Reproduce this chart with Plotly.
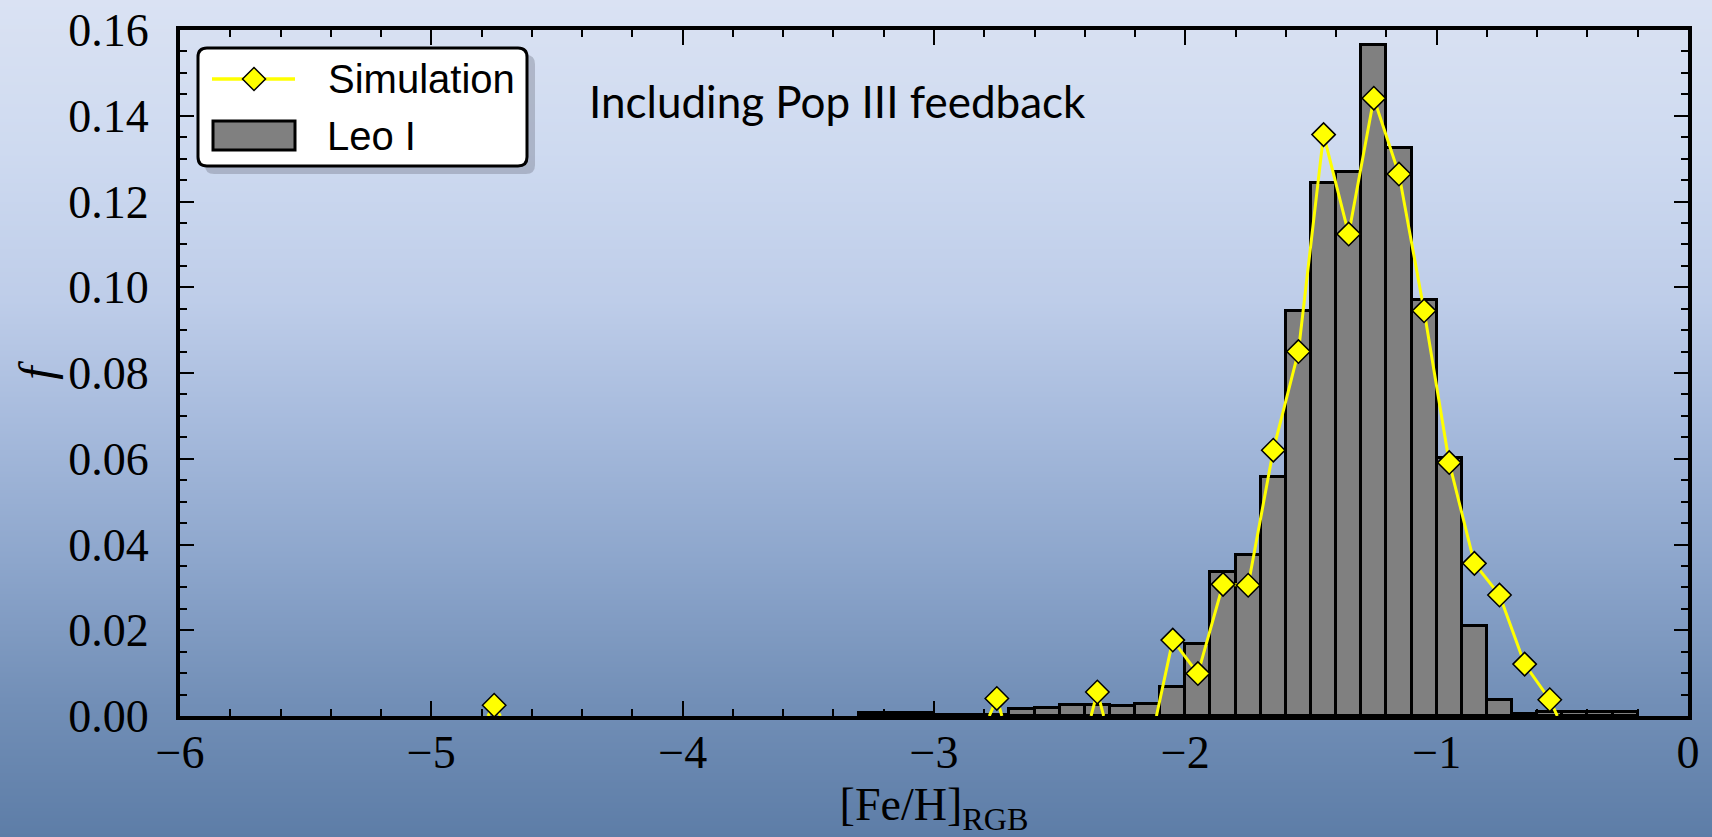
import base64
import struct
import zlib

import plotly.graph_objects as go

# ---------------- data ----------------
# Leo I observed MDF: bin centres (width 0.1 dex) and fractions
leo_x = [-3.25, -3.15, -3.05, -2.95, -2.85, -2.75, -2.65, -2.55, -2.45, -2.35,
         -2.25, -2.15, -2.05, -1.95, -1.85, -1.75, -1.65, -1.55, -1.45, -1.35,
         -1.25, -1.15, -1.05, -0.95, -0.85, -0.75, -0.65, -0.55, -0.45, -0.35,
         -0.25]
leo_f = [0.0006, 0.0006, 0.0006, 0.0003, 0.0003, 0.0003, 0.0016, 0.0019, 0.0026, 0.0026,
         0.0023, 0.0027, 0.0068, 0.0169, 0.0336, 0.0375, 0.0558, 0.0945, 0.1243, 0.1268,
         0.1566, 0.1324, 0.0970, 0.0601, 0.0210, 0.0037, 0.0004, 0.0009, 0.0010, 0.0010,
         0.0009]
leo_width = 0.1

# Simulation MDF (line drops to zero next to isolated bins; None = gap)
sim_x = [-4.775, -4.75, -4.725, None, -2.78, -2.75, -2.73, None, -2.375, -2.35,
         -2.325, None, -2.115, -2.05, -1.95, -1.85, -1.75, -1.65, -1.55, -1.45,
         -1.35, -1.25, -1.15, -1.05, -0.95, -0.85, -0.75, -0.65, -0.55, -0.52]
sim_f = [0.0, 0.0025, 0.0, None, 0.0, 0.0041, 0.0, None, 0.0, 0.0056,
         0.0, None, 0.0, 0.0177, 0.0099, 0.0307, 0.0305, 0.0620, 0.0850, 0.1356,
         0.1124, 0.1441, 0.1264, 0.0945, 0.0591, 0.0356, 0.0282, 0.0121, 0.0038, 0.0]

x_ticks = [-6, -5, -4, -3, -2, -1, 0]
y_ticks = [0.00, 0.02, 0.04, 0.06, 0.08, 0.10, 0.12, 0.14, 0.16]

series_names = ["Simulation", "Leo I"]
annotation_text = "Including Pop III feedback"

# ---------------- layout geometry ----------------
FIG_W, FIG_H = 1712, 837
ML, MR, MT, MB = 180, 24, 30, 121
PW = FIG_W - ML - MR
PH = FIG_H - MT - MB


def px(x):
    return (x - ML) / PW


def py(y):
    return (FIG_H - MB - y) / PH


# ---------------- background gradient (PNG data URI) ----------------
stops = [(0, (218, 226, 243)), (150, (206, 218, 240)), (300, (190, 205, 233)),
         (420, (167, 187, 221)), (560, (141, 166, 204)), (700, (114, 143, 183)),
         (837, (93, 125, 167))]
PAD = 20


def grad_color(yy):
    yy = min(max(yy, 0), FIG_H)
    for (y0, c0), (y1, c1) in zip(stops[:-1], stops[1:]):
        if y0 <= yy <= y1:
            t = (yy - y0) / (y1 - y0)
            return tuple(int(round(a + (b - a) * t)) for a, b in zip(c0, c1))
    return stops[-1][1]


N_ROWS = FIG_H + 2 * PAD
rows = b"".join(b"\x00" + bytes(grad_color(i - PAD)) for i in range(N_ROWS))


def chunk(tag, data):
    return (struct.pack(">I", len(data)) + tag + data
            + struct.pack(">I", zlib.crc32(tag + data) & 0xFFFFFFFF))


png = (b"\x89PNG\r\n\x1a\n"
       + chunk(b"IHDR", struct.pack(">IIBBBBB", 1, N_ROWS, 8, 2, 0, 0, 0))
       + chunk(b"IDAT", zlib.compress(rows, 9))
       + chunk(b"IEND", b""))
bg_uri = "data:image/png;base64," + base64.b64encode(png).decode()

# ---------------- traces ----------------
fig = go.Figure()

fig.add_trace(go.Bar(
    x=leo_x, y=leo_f, width=leo_width, name=series_names[1],
    marker=dict(color="#808080", line=dict(color="black", width=3)),
    showlegend=False,
))

fig.add_trace(go.Scatter(
    x=sim_x, y=sim_f, mode="lines", name=series_names[0],
    line=dict(color="#ffff00", width=3), showlegend=False, connectgaps=False,
))

mk_x = [x for x, f in zip(sim_x, sim_f) if f]
mk_f = [f for f in sim_f if f]
fig.add_trace(go.Scatter(
    x=mk_x, y=mk_f, mode="markers", name=series_names[0],
    marker=dict(symbol="diamond", size=18, color="#ffff00",
                line=dict(color="black", width=1.5)),
    showlegend=False,
))

# ---------------- legend (drawn) ----------------


def path_from(points, close=True):
    out = []
    for cmd, pts in points:
        out.append(cmd + " ".join(f"{px(a):.6f},{py(b):.6f}" for a, b in pts))
    return " ".join(out) + (" Z" if close else "")


def rounded_rect(x0, y0, x1, y1, r):
    return path_from([
        ("M", [(x0 + r, y0)]), ("L", [(x1 - r, y0)]), ("Q", [(x1, y0), (x1, y0 + r)]),
        ("L", [(x1, y1 - r)]), ("Q", [(x1, y1), (x1 - r, y1)]),
        ("L", [(x0 + r, y1)]), ("Q", [(x0, y1), (x0, y1 - r)]),
        ("L", [(x0, y0 + r)]), ("Q", [(x0, y0), (x0 + r, y0)]),
    ])


def diamond(cx, cy, h):
    return path_from([("M", [(cx, cy - h)]), ("L", [(cx + h, cy)]),
                      ("L", [(cx, cy + h)]), ("L", [(cx - h, cy)])])


shapes = [
    dict(type="path", xref="paper", yref="paper", layer="above",
         path=rounded_rect(205, 55, 535, 174, 9),
         fillcolor="rgba(95,100,115,0.32)", line=dict(width=0)),
    dict(type="path", xref="paper", yref="paper", layer="above",
         path=rounded_rect(198, 48, 527, 166, 9),
         fillcolor="white", line=dict(color="black", width=3)),
    dict(type="line", xref="paper", yref="paper", layer="above",
         x0=px(212), x1=px(295), y0=py(79), y1=py(79),
         line=dict(color="#ffff00", width=3.5)),
    dict(type="path", xref="paper", yref="paper", layer="above",
         path=diamond(254, 79, 11.5),
         fillcolor="#ffff00", line=dict(color="black", width=1.5)),
    dict(type="rect", xref="paper", yref="paper", layer="above",
         x0=px(213), x1=px(295), y0=py(121), y1=py(150),
         fillcolor="#808080", line=dict(color="black", width=3)),
]

annotations = [
    dict(text=series_names[0], xref="paper", yref="paper", x=px(326), y=py(79),
         xanchor="left", yanchor="middle", showarrow=False,
         font=dict(family="Liberation Sans", size=40, color="black")),
    dict(text=series_names[1], xref="paper", yref="paper", x=px(325), y=py(136),
         xanchor="left", yanchor="middle", showarrow=False,
         font=dict(family="Liberation Sans", size=40, color="black")),
    dict(text=annotation_text, xref="paper", yref="paper", x=px(587), y=py(101),
         xanchor="left", yanchor="middle", showarrow=False,
         font=dict(family="Lato", size=44, color="black")),
]

tick_font = dict(family="Liberation Serif", size=46, color="black")

fig.update_layout(
    width=FIG_W, height=FIG_H,
    margin=dict(l=ML, r=MR, t=MT, b=MB, pad=0, autoexpand=False),
    paper_bgcolor="#a5b9dc", plot_bgcolor="rgba(0,0,0,0)",
    bargap=0, showlegend=False,
    shapes=shapes, annotations=annotations,
    images=[dict(source=bg_uri, xref="paper", yref="paper",
                 x=px(0), y=py(-PAD), sizex=FIG_W / PW, sizey=N_ROWS / PH,
                 xanchor="left", yanchor="top", sizing="stretch", layer="below")],
    xaxis=dict(range=[-6, 0], tickvals=x_ticks, ticks="inside", ticklen=15,
               tickwidth=2, tickcolor="black", showline=True, linewidth=4,
               linecolor="black", mirror="ticks", showgrid=False, zeroline=False,
               tickfont=tick_font, ticklabelstandoff=-7, automargin=False,
               minor=dict(ticks="inside", dtick=0.2, ticklen=7, tickwidth=1.5,
                          tickcolor="black", showgrid=False),
               title=dict(text="[Fe/H]<sub>RGB</sub>", standoff=21,
                          font=dict(family="Liberation Serif", size=46, color="black"))),
    yaxis=dict(range=[0, 0.16], tickvals=y_ticks, tickformat=".2f", ticks="inside",
               ticklen=14, tickwidth=2, tickcolor="black", showline=True, linewidth=4,
               linecolor="black", mirror="ticks", showgrid=False, zeroline=False,
               tickfont=tick_font, ticklabelstandoff=18, automargin=False,
               minor=dict(ticks="inside", dtick=0.005, ticklen=7, tickwidth=1.5,
                          tickcolor="black", showgrid=False),
               title=dict(text="<i>f</i>", standoff=0,
                          font=dict(family="Liberation Serif", size=48, color="black"))),
)

fig.write_html("out.html")
